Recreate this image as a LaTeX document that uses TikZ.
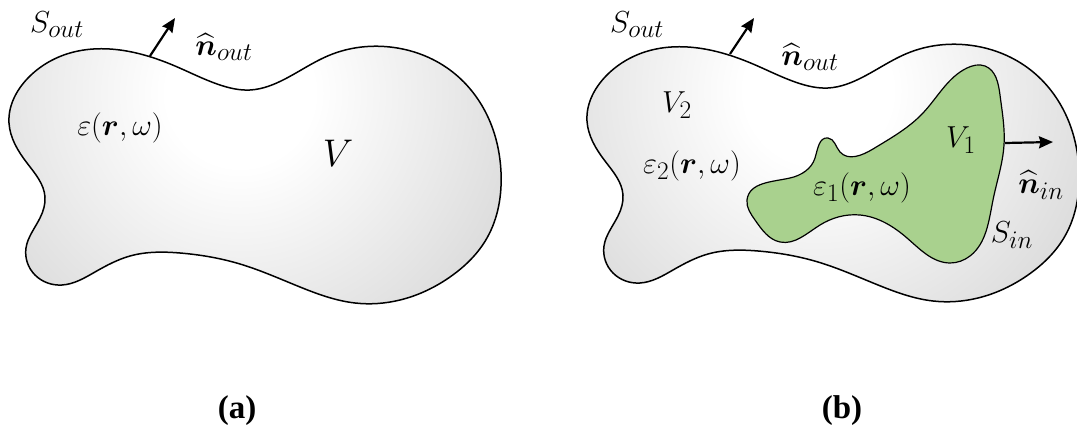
\documentclass[tikz,border=0pt]{standalone}
\usepackage{amsmath,bm}
\usepackage{fontspec}
\newfontfamily\capfont{Liberation Serif}
\usetikzlibrary{arrows.meta,calc,hobby}
\definecolor{greenfill}{HTML}{A9D18E}
\pgfdeclareradialshading{blobshade}{\pgfpoint{0bp}{0bp}}{color(0bp)=(white); color(4bp)=(white); color(30bp)=(black!30); color(50bp)=(black!30)}
\tikzset{
  blob/.style={draw=black, line width=1.5pt, use Hobby shortcut, closed=true,
    path picture={\shade[shading=blobshade] ($(path picture bounding box.north)+(-15pt,-48pt)$) circle (460pt);}},
  inner/.style={draw=black, line width=1.2pt, fill=greenfill, use Hobby shortcut, closed=true},
  normal/.style={line width=2.2pt, -{Stealth[length=14pt,width=12pt,inset=1.5pt]}},
  lbl/.style={inner sep=0pt, font=\fontsize{24.88}{30}\selectfont, scale=1.22},
  biglbl/.style={inner sep=0pt, font=\fontsize{24.88}{30}\selectfont, scale=1.55},
  caplbl/.style={inner sep=0pt, font=\capfont\bfseries\fontsize{33}{38}\selectfont}
}
\begin{document}
\begin{tikzpicture}[x=1pt,y=-1pt]
\useasboundingbox (0,0) rectangle (1077,436);
% ---------- (a) ----------
\draw[blob] (9,123) .. (28,78) .. (70,53) .. (120,50) .. (175,66) .. (220,85) .. (250,90) .. (285,79) .. (330,55) .. (390,47) .. (450,70) .. (487,115) .. (501,172) .. (487,238) .. (450,277) .. (400,300) .. (355,303) .. (300,287) .. (240,264) .. (180,253) .. (130,256) .. (95,272) .. (62,285) .. (35,275) .. (26,248) .. (40,218) .. (45,197) .. (27,163);
\coordinate (aB) at (150,56);
\coordinate (aT) at (175,18);
\draw[normal] (aB) -- (aT);
\node[lbl] (aS) at (57,25) {$S_{out}$};
\node[lbl] (aN) at (224,47) {$\widehat{\bm{n}}_{out}$};
\node[lbl] (aE) at (120,128) {$\varepsilon(\bm{r},\omega)$};
\node[biglbl] (aV) at (338,153) {$V$};
% ---------- (b) ----------
\begin{scope}[xshift=578pt, yshift=2pt]
\draw[blob] (9,123) .. (28,78) .. (70,53) .. (120,50) .. (175,66) .. (220,85) .. (250,90) .. (285,79) .. (330,55) .. (390,47) .. (450,70) .. (487,115) .. (501,172) .. (487,238) .. (450,277) .. (400,300) .. (355,303) .. (300,287) .. (240,264) .. (180,253) .. (130,256) .. (95,272) .. (62,285) .. (35,275) .. (26,248) .. (40,218) .. (45,197) .. (27,163);
\end{scope}
\draw[inner] (747,200) .. (790,178) .. (815,158) .. (828,138) .. (840,152) .. (873,149) .. (923,113) .. (967,68) .. (985,66) .. (1000,95) .. (1004,145) .. (993,200) .. (970,256) .. (950,263) .. (907,238) .. (860,215) .. (820,225) .. (780,242) .. (755,220);
\coordinate (bB) at (730,54);
\coordinate (bT) at (754,18);
\draw[normal] (bB) -- (bT);
\coordinate (iB) at (1005,143);
\coordinate (iT) at (1053,142);
\draw[normal] (iB) -- (iT);
\node[lbl] (bS) at (637,25) {$S_{out}$};
\node[lbl] (bN) at (810,57) {$\widehat{\bm{n}}_{out}$};
\node[lbl] (bV2) at (677,105) {$V_2$};
\node[lbl] (bE2) at (692,166) {$\varepsilon_2(\bm{r},\omega)$};
\node[lbl] (bE1) at (862,188) {$\varepsilon_1(\bm{r},\omega)$};
\node[lbl] (bV1) at (961,140) {$V_1$};
\node[lbl] (bNi) at (1041,185) {$\widehat{\bm{n}}_{in}$};
\node[lbl] (bSi) at (1012,235) {$S_{in}$};
% captions
\node[caplbl] (capa) at (237,411) {(a)};
\node[caplbl] (capb) at (842,411) {(b)};
\end{tikzpicture}
\end{document}
